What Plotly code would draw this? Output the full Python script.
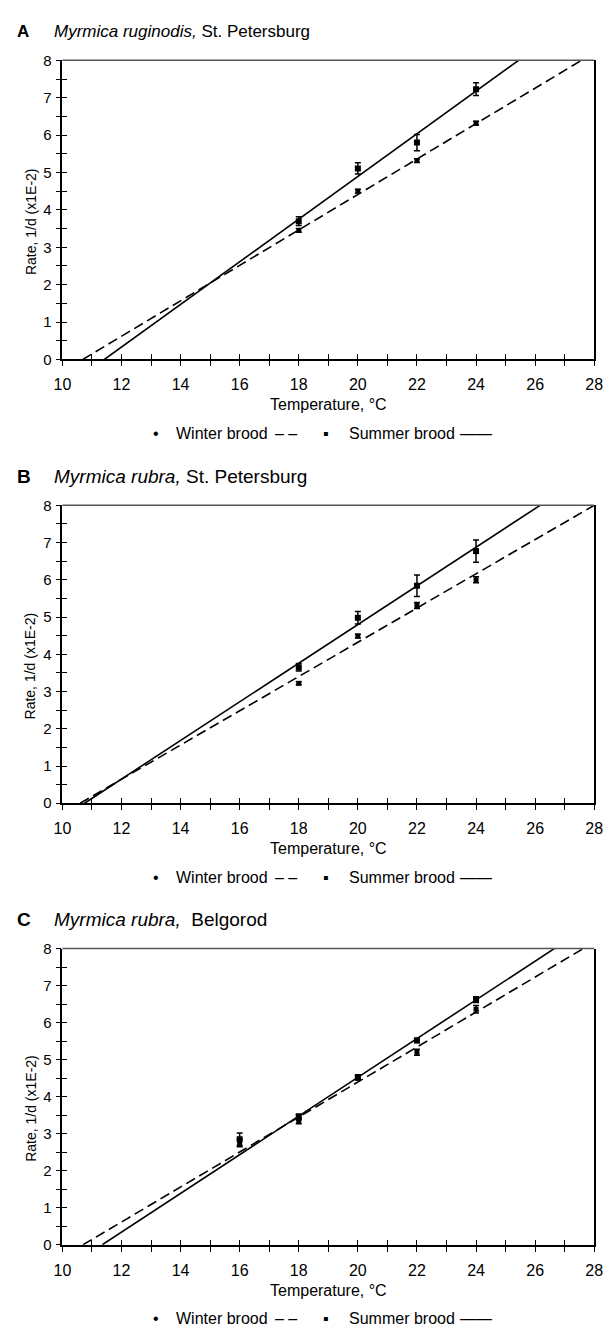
import plotly.graph_objects as go

# ---------------- data ----------------
temps_A = [18, 20, 22, 24]
winter_A = [3.45, 4.50, 5.32, 6.32]
winter_A_err = [0.05, 0.05, 0.05, 0.05]
summer_A = [3.70, 5.11, 5.80, 7.23]
summer_A_err = [0.12, 0.15, 0.22, 0.17]
winter_A_line_x = [10.69, 27.57]
summer_A_line_x = [11.42, 25.44]

temps_B = [18, 20, 22, 24]
winter_B = [3.22, 4.49, 5.31, 6.00]
winter_B_err = [0.04, 0.05, 0.08, 0.08]
summer_B = [3.65, 4.98, 5.84, 6.77]
summer_B_err = [0.10, 0.17, 0.29, 0.30]
winter_B_line_x = [10.60, 28.00]
summer_B_line_x = [10.75, 26.17]

temps_C = [16, 18, 20, 22, 24]
winter_C = [2.75, 3.35, 4.50, 5.20, 6.36]
winter_C_err = [0.10, 0.08, 0.05, 0.08, 0.10]
summer_C = [2.85, 3.45, 4.53, 5.52, 6.62]
summer_C_err = [0.17, 0.08, 0.06, 0.06, 0.08]
winter_C_line_x = [10.70, 27.63]
summer_C_line_x = [11.35, 26.65]

line_y = [0, 8]

x_ticks = [10, 12, 14, 16, 18, 20, 22, 24, 26, 28]
y_ticks = [0, 1, 2, 3, 4, 5, 6, 7, 8]

panel_letters = ["A", "B", "C"]
panel_species = ["Myrmica ruginodis,", "Myrmica rubra,", "Myrmica rubra,"]
panel_places = ["St. Petersburg", "St. Petersburg", "Belgorod"]

x_title = "Temperature, °C"
y_title = "Rate, 1/d (x1E-2)"
legend_winter = "Winter brood"
legend_summer = "Summer brood"

# ---------------- layout helpers ----------------
W, H = 611, 1334
FONT = "Liberation Sans, Arial, sans-serif"
X_LEFT, X_RIGHT = 55, 603
panel_tops = [52, 502.7, 951.7]
panel_bottoms = [355, 804.5, 1251.7]
title_sizes = [17, 19, 19]


def px(x):
    return x / W


def py(y):
    return 1 - y / H


panels = [
    (temps_A, winter_A, winter_A_err, summer_A, summer_A_err, winter_A_line_x, summer_A_line_x),
    (temps_B, winter_B, winter_B_err, summer_B, summer_B_err, winter_B_line_x, summer_B_line_x),
    (temps_C, winter_C, winter_C_err, summer_C, summer_C_err, winter_C_line_x, summer_C_line_x),
]

fig = go.Figure()
layout = dict(
    width=W, height=H,
    margin=dict(l=0, r=0, t=0, b=0),
    paper_bgcolor="white", plot_bgcolor="white",
    showlegend=False,
    font=dict(family=FONT, size=16, color="black"),
)
annotations = []
shapes = []
TL = 5      # tick half-length
TW = 1.4

for i, (t, w, we, s, se, wlx, slx) in enumerate(panels):
    n = i + 1
    xa = "x" if n == 1 else f"x{n}"
    ya = "y" if n == 1 else f"y{n}"
    xo = f"x{n + 3}"
    yo = f"y{n + 3}"

    fig.add_trace(go.Scatter(x=wlx, y=line_y, mode="lines", xaxis=xa, yaxis=ya,
                             line=dict(color="black", width=1.6, dash="10px,5px")))
    fig.add_trace(go.Scatter(x=slx, y=line_y, mode="lines", xaxis=xa, yaxis=ya,
                             line=dict(color="black", width=1.6)))
    fig.add_trace(go.Scatter(x=t, y=w, mode="markers", xaxis=xa, yaxis=ya,
                             marker=dict(symbol="square", size=5, color="black"),
                             error_y=dict(type="data", array=we, color="black",
                                          thickness=1.5, width=3)))
    fig.add_trace(go.Scatter(x=t, y=s, mode="markers", xaxis=xa, yaxis=ya,
                             marker=dict(symbol="square", size=6, color="black"),
                             error_y=dict(type="data", array=se, color="black",
                                          thickness=1.5, width=3)))
    fig.add_trace(go.Scatter(x=[None], y=[None], mode="markers", xaxis=xo, yaxis=yo,
                             hoverinfo="skip"))

    ydom = [py(panel_bottoms[i]), py(panel_tops[i])]
    xdom = [px(X_LEFT), px(X_RIGHT)]

    xkey = "xaxis" if n == 1 else f"xaxis{n}"
    ykey = "yaxis" if n == 1 else f"yaxis{n}"
    layout[xkey] = dict(
        domain=xdom, anchor=ya, range=[10, 28], tickvals=x_ticks,
        ticks="outside", ticklen=TL, tickwidth=TW, tickcolor="black",
        minor=dict(dtick=1, ticks="outside", ticklen=TL, tickwidth=TW, tickcolor="black"),
        showline=True, linecolor="black", linewidth=1.6, mirror=False,
        showgrid=False, zeroline=False, ticklabelstandoff=5,
        ticklabeloverflow="allow",
        tickfont=dict(size=16, family=FONT),
    )
    layout[ykey] = dict(
        domain=ydom, anchor=xa, range=[0, 8], tickvals=y_ticks,
        ticks="outside", ticklen=TL, tickwidth=TW, tickcolor="black",
        minor=dict(dtick=0.5, ticks="outside", ticklen=TL, tickwidth=TW, tickcolor="black"),
        showline=True, linecolor="black", linewidth=1.6, mirror=True,
        showgrid=False, zeroline=False, ticklabelstandoff=1,
        ticklabeloverflow="allow",
        tickfont=dict(size=15, family=FONT),
    )
    layout[f"xaxis{n + 3}"] = dict(
        domain=xdom, anchor=yo, overlaying=xa, range=[10, 28], tickvals=x_ticks,
        ticks="inside", ticklen=TL, tickwidth=TW, tickcolor="black",
        minor=dict(dtick=1, ticks="inside", ticklen=TL, tickwidth=TW, tickcolor="black"),
        showticklabels=False, showline=False, showgrid=False, zeroline=False,
    )
    layout[f"yaxis{n + 3}"] = dict(
        domain=ydom, anchor=xo, overlaying=ya, range=[0, 8], tickvals=y_ticks,
        ticks="inside", ticklen=TL, tickwidth=TW, tickcolor="black",
        minor=dict(dtick=0.5, ticks="inside", ticklen=TL, tickwidth=TW, tickcolor="black"),
        showticklabels=False, showline=False, showgrid=False, zeroline=False,
    )
    shapes.append(dict(type="line", xref=f"{xa} domain", yref=f"{ya} domain",
                       x0=0, x1=1, y0=1, y1=1, line=dict(color="#555555", width=1.5)))

    top = panel_tops[i]
    bot = panel_bottoms[i]
    sep = "  " if i == 2 else " "
    ts = title_sizes[i]
    annotations.append(dict(x=px(6), y=py(top - 29), xref="paper", yref="paper",
                            text=f"<b>{panel_letters[i]}</b>", showarrow=False,
                            xanchor="left", yanchor="middle", font=dict(size=ts)))
    annotations.append(dict(x=px(44), y=py(top - 29), xref="paper", yref="paper",
                            text=f"<i>{panel_species[i]}</i>{sep}{panel_places[i]}",
                            showarrow=False, xanchor="left", yanchor="middle",
                            font=dict(size=ts)))
    annotations.append(dict(x=px((X_LEFT + X_RIGHT) / 2), y=py(bot + 46),
                            xref="paper", yref="paper",
                            text=x_title, showarrow=False, xanchor="center",
                            yanchor="middle", font=dict(size=16)))
    annotations.append(dict(x=px(22), y=py((top + bot) / 2 + 12), xref="paper", yref="paper",
                            text=y_title, showarrow=False, textangle=-90,
                            xanchor="center", yanchor="middle", font=dict(size=14)))
    ly = py(bot + 75)
    annotations.append(dict(x=px(151), y=ly, xref="paper", yref="paper", text="•",
                            showarrow=False, xanchor="center", yanchor="middle",
                            font=dict(size=16)))
    annotations.append(dict(x=px(170), y=ly, xref="paper", yref="paper",
                            text=legend_winter, showarrow=False,
                            xanchor="left", yanchor="middle", font=dict(size=16)))
    annotations.append(dict(x=px(272), y=ly, xref="paper", yref="paper",
                            text="– –", showarrow=False,
                            xanchor="left", yanchor="middle", font=dict(size=16)))
    annotations.append(dict(x=px(327), y=ly, xref="paper", yref="paper", text="▪",
                            showarrow=False, xanchor="center", yanchor="middle",
                            font=dict(size=16)))
    annotations.append(dict(x=px(348), y=ly, xref="paper", yref="paper",
                            text=legend_summer, showarrow=False,
                            xanchor="left", yanchor="middle", font=dict(size=16)))
    annotations.append(dict(x=px(463), y=ly, xref="paper", yref="paper",
                            text="——", showarrow=False,
                            xanchor="left", yanchor="middle", font=dict(size=16)))

layout["annotations"] = annotations
layout["shapes"] = shapes
fig.update_layout(**layout)
fig.write_html(
    "out.html",
    config={"displayModeBar": False},
    post_script="document.body.style.margin='0';document.body.style.padding='0';"
                "document.documentElement.style.overflow='hidden';",
)
